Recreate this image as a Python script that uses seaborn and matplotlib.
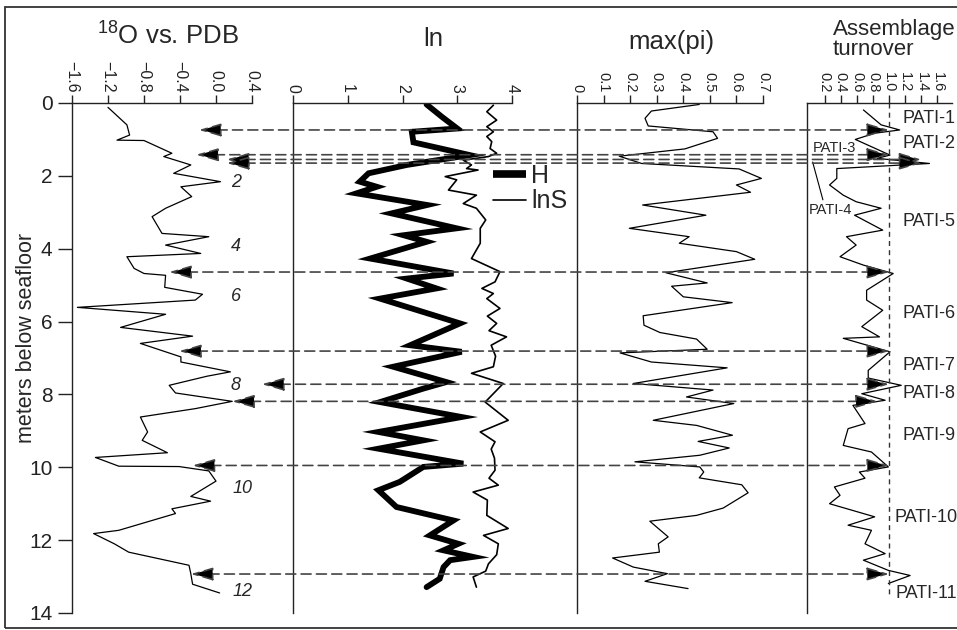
import numpy as np
import pandas as pd
import seaborn as sns
import matplotlib.pyplot as plt
from matplotlib.lines import Line2D
from matplotlib.patches import ConnectionPatch, Rectangle, ArrowStyle

# ========== DATA ==========
# oxygen isotope record
d18o_depth = [0.12, 0.60, 0.88, 1.02, 1.03, 1.38, 1.47, 1.70, 1.93, 2.16, 2.30, 2.57, 2.89, 3.12,
              3.58, 3.67, 3.90, 4.13, 4.22, 4.54, 4.68, 4.73, 5.06, 5.25, 5.41, 5.61, 5.80, 6.16,
              6.40, 6.60, 6.97, 7.11, 7.38, 7.50, 7.75, 7.96, 8.19, 8.39, 8.62, 9.03, 9.26, 9.60,
              9.73, 9.97, 9.98, 10.10, 10.38, 10.80, 10.93, 11.14, 11.27, 11.73, 11.82, 12.10,
              12.33, 12.69, 12.92, 13.21, 13.45]
d18o = [-1.20, -0.99, -0.96, -1.10, -0.80, -0.49, -0.58, -0.28, -0.47, 0.05, -0.39, -0.27, -0.56, -0.71,
        -0.60, -0.08, -0.56, -0.17, -0.99, -0.91, -0.80, -0.56, -0.57, -0.15, -0.23, -1.54, -0.56, -1.06,
        -0.26, -0.84, -0.39, -0.39, 0.16, -0.10, -0.52, -0.45, 0.18, -0.23, -0.84, -0.76, -0.82, -0.54,
        -1.34, -1.08, -0.41, -0.08, 0.00, -0.28, -0.06, -0.49, -0.45, -1.08, -1.36, -1.13,
        -0.97, -0.30, -0.28, -0.26, 0.04]

# diversity: H and lnS
h_depth = [0.04, 0.38, 0.70, 0.79, 1.08, 1.43, 1.70, 1.93, 2.16, 2.30, 2.48, 2.80, 3.03, 3.44, 3.63,
           3.81, 4.27, 4.68, 4.82, 5.09, 5.37, 6.05, 6.65, 6.83, 7.24, 7.66, 7.84, 8.21, 8.62, 9.03,
           9.26, 9.49, 9.90, 9.99, 10.40, 10.63, 11.09, 11.46, 11.87, 12.10, 12.28, 12.46, 12.55,
           12.74, 13.06, 13.29]
h_vals = [2.44, 2.72, 3.00, 2.17, 2.20, 3.23, 2.08, 1.38, 1.22, 1.53, 1.16, 2.45, 1.80, 2.99, 2.02,
          2.44, 1.41, 2.93, 2.08, 2.62, 1.59, 3.05, 2.14, 3.08, 1.83, 2.80, 2.38, 1.59, 3.08, 1.56,
          2.38, 1.56, 3.11, 2.38, 1.95, 1.56, 1.89, 2.93, 2.50, 3.02, 2.75, 3.29, 2.87,
          2.75, 2.68, 2.44]

lns_depth = [0.06, 0.24, 0.47, 0.65, 0.79, 0.92, 1.06, 1.25, 1.38, 1.47, 1.57, 1.70, 1.80, 1.84, 2.02,
             2.11, 2.39, 2.53, 2.76, 2.89, 3.21, 3.44, 3.85, 4.27, 4.63, 4.91, 5.09, 5.23, 5.37, 5.64,
             5.85, 6.05, 6.25, 6.42, 6.65, 6.95, 7.24, 7.42, 7.70, 8.21, 8.71, 9.03, 9.30, 9.50, 9.75,
             10.08, 10.30, 10.49, 10.68, 10.90, 11.32, 11.68, 11.87, 12.10, 12.40, 12.65, 12.85,
             13.01, 13.29]
lns_vals = [3.66, 3.54, 3.72, 3.54, 3.66, 3.54, 3.63, 3.60, 3.72, 3.57, 3.11, 3.26, 3.17, 3.38, 2.78,
            2.99, 2.84, 3.35, 3.11, 3.35, 3.52, 3.42, 3.42, 3.26, 3.78, 3.69, 3.45, 3.66, 3.54, 3.78,
            3.55, 3.72, 3.58, 3.90, 3.62, 3.70, 3.66, 3.26, 3.84, 3.51, 3.93, 3.42, 3.69, 3.62, 3.68,
            3.69, 3.58, 3.75, 3.29, 3.55, 3.54, 3.93, 3.48, 3.75, 3.72, 3.57, 3.52,
            3.29, 3.35]

# dominance max(pi)
pi_depth = [0.04, 0.22, 0.42, 0.63, 0.79, 0.97, 1.26, 1.46, 1.66, 1.81, 2.07, 2.25, 2.45, 2.80, 3.08,
            3.44, 3.67, 3.85, 4.08, 4.29, 4.66, 4.94, 5.03, 5.32, 5.48, 5.84, 6.10, 6.30, 6.48, 6.76,
            6.86, 7.11, 7.27, 7.70, 7.88, 8.07, 8.25, 8.71, 8.85, 9.12, 9.29, 9.47, 9.67, 9.85, 9.99,
            10.13, 10.29, 10.48, 10.70, 11.12, 11.32, 11.48, 11.91, 12.10, 12.33, 12.49, 12.74,
            12.92, 13.13, 13.33]
pi_vals = [0.46, 0.28, 0.256, 0.268, 0.512, 0.529, 0.406, 0.159, 0.243, 0.61, 0.694, 0.60, 0.653, 0.247,
           0.485, 0.197, 0.422, 0.385, 0.60, 0.669, 0.335, 0.49, 0.356, 0.40, 0.584, 0.249, 0.252,
           0.312, 0.45, 0.49, 0.162, 0.28, 0.565, 0.212, 0.512, 0.412, 0.59, 0.287, 0.45, 0.585, 0.456,
           0.573, 0.462, 0.218, 0.462, 0.477, 0.46, 0.62, 0.644, 0.55, 0.45, 0.274, 0.343, 0.306, 0.31,
           0.134, 0.212, 0.34, 0.256, 0.418]

# assemblage turnover
turn_depth = [0.19, 0.60, 0.74, 0.83, 1.00, 1.43, 1.52, 1.66, 1.80, 2.07, 2.25, 2.53, 2.71, 2.89, 3.08,
              3.49, 3.67, 3.90, 4.22, 4.45, 4.68, 5.14, 5.41, 5.69, 6.14, 6.42, 6.46, 6.83, 7.34, 7.55,
              7.75, 7.98, 8.16, 8.30, 8.80, 8.94, 9.40, 9.58, 9.99, 10.13, 10.30, 10.54, 10.77, 11.00,
              11.36, 11.59, 11.73, 12.10, 12.37, 12.55, 12.83, 12.97, 13.19]
turn_vals = [0.68, 0.90, 1.13, 0.82, 0.58, 1.01, 0.85, 1.50, 0.35, 0.35, 0.26, 0.43, 0.59, 0.90, 0.57,
             0.92, 0.47, 0.59, 0.39, 0.68, 1.05, 0.72, 0.72, 0.92, 0.66, 0.88, 0.43, 1.01, 0.74, 0.74,
             1.15, 0.66, 0.95, 0.55, 0.70, 0.49, 0.43, 0.78, 0.99, 0.63, 0.70, 0.32, 0.39, 0.26,
             0.82, 0.49, 0.78, 0.70, 0.95, 0.68, 0.99, 1.26, 0.99]

# correlation arrows: depth, end on d18O panel, end on turnover panel
arrow_depth = [0.74, 1.42, 1.55, 1.65, 4.64, 6.81, 7.72, 8.19, 9.95, 12.93]
arrow_d18o = [-0.19, -0.22, 0.12, 0.12, -0.52, -0.41, 0.51, 0.18, -0.26, -0.28]
arrow_turn = [1.0, 1.0, 1.4, 1.4, 1.0, 1.0, 1.0, 0.86, 1.0, 1.0]

# marine isotope stages
mis_labels = ['2', '4', '6', '8', '10', '12']
mis_depth = [2.19, 3.95, 5.32, 7.75, 10.58, 13.42]
mis_x = [0.22, 0.22, 0.22, 0.22, 0.29, 0.29]

# PATI zones
pati_labels = ['PATI-1', 'PATI-2', 'PATI-5', 'PATI-6', 'PATI-7', 'PATI-8', 'PATI-9', 'PATI-10', 'PATI-11']
pati_depth = [0.42, 1.11, 3.26, 5.78, 7.20, 7.98, 9.12, 11.37, 13.47]
pati_x = [1.16, 1.16, 1.16, 1.16, 1.16, 1.16, 1.16, 1.07, 1.08]

# tick labels
d18o_ticks = [-1.6, -1.2, -0.8, -0.4, 0.0, 0.4]
d18o_ticklabels = ['\u22121.6', '\u22121.2', '\u22120.8', '\u22120.4', '0.0', '0.4']
ln_ticks = [0, 1, 2, 3, 4]
ln_ticklabels = ['0', '1', '2', '3', '4']
pi_ticks = [0, 0.1, 0.2, 0.3, 0.4, 0.5, 0.6, 0.7]
pi_ticklabels = ['0', '0.1', '0.2', '0.3', '0.4', '0.5', '0.6', '0.7']
turn_ticks = [0.2, 0.4, 0.6, 0.8, 1.0, 1.2, 1.4, 1.6]
turn_ticklabels = ['0.2', '0.4', '0.6', '0.8', '1.0', '1.2', '1.4', '1.6']
depth_ticks = [0, 2, 4, 6, 8, 10, 12, 14]

# ========== STYLE ==========
sns.set_style('white')
plt.rcParams['font.family'] = ['Liberation Sans', 'DejaVu Sans']
plt.rcParams['mathtext.fontset'] = 'custom'
plt.rcParams['mathtext.rm'] = 'Liberation Sans'
plt.rcParams['axes.edgecolor'] = '#222222'
plt.rcParams['axes.linewidth'] = 1.0
plt.rcParams['xtick.color'] = '#222222'
plt.rcParams['ytick.color'] = '#222222'

fig = plt.figure(figsize=(9.57, 6.3), dpi=100)
W, H = 957, 630
bot, hgt = 17 / H, 510 / H
ax1 = fig.add_axes([72 / W, bot, 180 / W, hgt])
ax2 = fig.add_axes([293 / W, bot, 219 / W, hgt])
ax3 = fig.add_axes([577 / W, bot, 186 / W, hgt])
ax4 = fig.add_axes([807 / W, bot, 145 / W, hgt])


def style_panel(ax, xlim, ticks, labels, size):
    ax.set_ylim(14, 0)
    ax.set_xlim(*xlim)
    ax.set_xticks(ticks)
    ax.set_xticklabels(labels)
    ax.xaxis.tick_top()
    ax.spines[['right', 'bottom']].set_visible(False)
    ax.tick_params(axis='x', top=True, bottom=False, labeltop=True, labelbottom=False,
                   direction='out', length=6, width=1, pad=1.5, labelsize=size, labelrotation=-90)
    ax.set_xlabel('')
    ax.set_ylabel('')
    ax.patch.set_alpha(0)


# ========== PANEL 1: d18O ==========
sns.lineplot(x=d18o, y=d18o_depth, orient='y', sort=False, estimator=None,
             color='black', lw=0.9, ax=ax1)
style_panel(ax1, (-1.6, 0.4), d18o_ticks, d18o_ticklabels, 11.5)
ax1.set_yticks(depth_ticks)
ax1.tick_params(axis='y', left=True, direction='out', length=10, width=1, pad=4, labelsize=15)
ax1.set_ylabel('meters below seafloor', fontsize=15.5)
ax1.yaxis.set_label_coords(-0.194, 0.54)
ax1.text(0.53, 1.131, r'$\mathregular{^{18}}$O vs. PDB', transform=ax1.transAxes,
         ha='center', va='center', fontsize=18.5)
for lab, d, x in zip(mis_labels, mis_depth, mis_x):
    ax1.text(x, d, lab, style='italic', fontsize=13, ha='center', va='center', clip_on=False)

# ========== PANEL 2: H / lnS ==========
sns.lineplot(x=h_vals, y=h_depth, orient='y', sort=False, estimator=None,
             color='black', lw=4.2, solid_joinstyle='miter', ax=ax2)
sns.lineplot(x=lns_vals, y=lns_depth, orient='y', sort=False, estimator=None,
             color='black', lw=1.2, ax=ax2)
style_panel(ax2, (0, 4), ln_ticks, ln_ticklabels, 11.5)
ax2.tick_params(axis='y', left=False, labelleft=False)
ax2.text(0.64, 1.125, 'ln', transform=ax2.transAxes, ha='center', va='center', fontsize=18.5)
handles = [Line2D([], [], color='black', lw=5.5, solid_capstyle='butt'),
           Line2D([], [], color='black', lw=1.2)]
ax2.legend(handles, ['H', 'lnS'], loc='upper left', bbox_to_anchor=(0.913, 0.88),
           frameon=False, fontsize=18, handlelength=1.32, handletextpad=0.2,
           labelspacing=0.05, borderpad=0, borderaxespad=0)

# ========== PANEL 3: max(pi) ==========
sns.lineplot(x=pi_vals, y=pi_depth, orient='y', sort=False, estimator=None,
             color='black', lw=0.9, ax=ax3)
style_panel(ax3, (0, 0.7), pi_ticks, pi_ticklabels, 10.5)
ax3.tick_params(axis='y', left=False, labelleft=False)
ax3.text(0.505, 1.12, 'max(pi)', transform=ax3.transAxes, ha='center', va='center', fontsize=18.5)

# ========== PANEL 4: turnover ==========
sns.lineplot(x=turn_vals, y=turn_depth, orient='y', sort=False, estimator=None,
             color='black', lw=0.9, ax=ax4)
style_panel(ax4, (-0.02, 1.78), turn_ticks, turn_ticklabels, 10.5)
ax4.tick_params(axis='y', left=False, labelleft=False)
ax4.vlines(1.0, 0, 13.6, colors='#333333', lw=1.0, linestyles=(0, (3.6, 3)))
ax4.text(0.18, 1.165, 'Assemblage\nturnover', transform=ax4.transAxes, ha='left', va='top',
         fontsize=16, linespacing=0.95)
for lab, d, x in zip(pati_labels, pati_depth, pati_x):
    ax4.text(x, d, lab, fontsize=13, ha='left', va='center', clip_on=False)
ax4.text(0.05, 1.24, 'PATI-3', fontsize=10.5, ha='left', va='center')
ax4.annotate('PATI-4', xy=(0.05, 1.62), xytext=(0.0, 2.94), fontsize=10.5, ha='left', va='center',
             arrowprops=dict(arrowstyle='-', lw=0.8, color='black', shrinkA=0, shrinkB=0,
                             relpos=(0.35, 1.0)))

# ========== CORRELATION ARROWS ==========
head = ArrowStyle('<|-|>', head_length=0.85, head_width=0.25)
for d, xl, xr in zip(arrow_depth, arrow_d18o, arrow_turn):
    con = ConnectionPatch(xyA=(xl, d), coordsA=ax1.transData, xyB=(xr, d), coordsB=ax4.transData,
                          arrowstyle=head, mutation_scale=16, lw=1.2, linestyle=(0, (6, 3.2)),
                          edgecolor='#444444', facecolor='black', shrinkA=0, shrinkB=0, zorder=5)
    fig.add_artist(con)

# frame round the whole figure
fig.add_artist(Rectangle((5 / W, 2 / H), 1.0, 621 / H, transform=fig.transFigure,
                         fill=False, lw=1.3, ec='#333333'))

fig.savefig('out.png', dpi=100)
